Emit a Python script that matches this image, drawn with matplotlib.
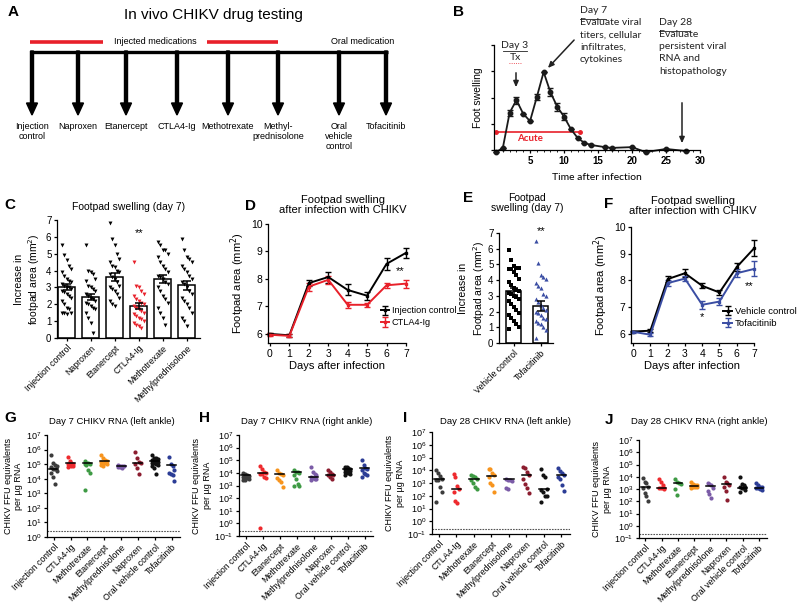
import numpy as np
import matplotlib.pyplot as plt

plt.rcParams['font.family'] = ['Liberation Sans', 'DejaVu Sans']
plt.rcParams['font.size'] = 7
plt.rcParams['axes.linewidth'] = 0.9
plt.rcParams['xtick.major.width'] = 0.9
plt.rcParams['ytick.major.width'] = 0.9
plt.rcParams['xtick.major.size'] = 2.5
plt.rcParams['ytick.major.size'] = 2.5
plt.rcParams['xtick.major.pad'] = 1.5
plt.rcParams['ytick.major.pad'] = 1.5

RED = '#e8202a'
BLUE = '#3a4da3'
W, H = 800, 607

# A - study design
design_drugs = ['Injection\ncontrol', 'Naproxen', 'Etanercept', 'CTLA4-Ig', 'Methotrexate',
                'Methyl-\nprednisolone', 'Oral\nvehicle\ncontrol', 'Tofacitinib']

# B - course of foot swelling
course_days = [0, 1, 2, 3, 4, 5, 6, 7, 8, 9, 10, 11, 12, 13, 14, 16, 17, 20, 22, 25, 28]
course_swelling = [-0.08, 0.08, 1.42, 1.9, 1.38, 1.1, 2.02, 2.97, 2.2, 1.65, 1.27, 0.8, 0.46,
                   0.27, 0.19, 0.11, 0.08, 0.11, -0.08, 0.04, -0.04]
course_err = [0, 0, 0.12, 0.13, 0, 0, 0.12, 0, 0.15, 0.15, 0.14, 0, 0, 0, 0, 0, 0, 0, 0, 0, 0]

# C - footpad swelling day 7, injected drugs
c_groups = ['Injection control', 'Naproxen', 'Etanercept', 'CTLA4-Ig', 'Methotrexate',
            'Methylprednisolone']
c_mean = [3.0, 2.45, 3.62, 1.9, 3.5, 3.12]
c_sem = [0.18, 0.18, 0.22, 0.15, 0.25, 0.25]
c_inj = [5.5, 4.9, 4.6, 4.3, 4.1, 3.9, 3.7, 3.5, 3.4, 3.3, 3.2, 3.1, 3.0, 3.0, 2.9, 2.8, 2.7,
         2.6, 2.5, 2.4, 2.2, 2.0, 1.8, 1.7, 1.5, 1.5, 1.5, 1.4]
c_nap = [5.5, 4.0, 3.9, 3.8, 3.5, 3.4, 3.1, 3.0, 2.9, 2.8, 2.6, 2.5, 2.4, 2.3, 2.2, 2.1, 2.0,
         1.9, 1.8, 1.7, 1.5, 1.2, 0.9, 0.3]
c_eta = [6.8, 5.9, 5.5, 5.0, 4.7, 4.5, 4.3, 4.2, 4.0, 3.9, 3.8, 3.6, 3.5, 3.3, 3.1, 3.0, 2.9,
         2.8, 2.6, 2.4, 2.2, 2.0, 1.9]
c_ctla = [4.5, 3.1, 3.0, 2.8, 2.6, 2.5, 2.3, 2.2, 2.1, 2.0, 1.9, 1.8, 1.7, 1.6, 1.5, 1.4, 1.3,
          1.2, 1.1, 1.0, 0.9, 0.8, 0.7, 0.6]
c_mtx = [5.7, 5.5, 5.2, 5.2, 5.0, 4.8, 4.5, 4.3, 4.1, 3.9, 3.7, 3.6, 3.5, 3.3, 3.2, 3.0, 2.8,
         2.5, 2.3, 2.1, 1.8, 1.5, 1.2, 0.8]
c_mp = [5.9, 5.2, 4.8, 4.7, 4.5, 4.3, 4.1, 3.9, 3.7, 3.5, 3.3, 3.2, 3.0, 2.8, 2.6, 2.4, 2.2,
        2.0, 1.8, 1.5, 1.2, 1.0, 0.7]
c_points = [c_inj, c_nap, c_eta, c_ctla, c_mtx, c_mp]

# D - time course, CTLA4-Ig
days = [0, 1, 2, 3, 4, 5, 6, 7]
d_ctrl = [6.0, 5.95, 7.85, 8.07, 7.6, 7.39, 8.55, 8.95]
d_ctrl_err = [0.05, 0.05, 0.12, 0.2, 0.2, 0.15, 0.22, 0.18]
d_ctla = [5.97, 5.93, 7.72, 7.97, 7.06, 7.06, 7.77, 7.83]
d_ctla_err = [0.05, 0.05, 0.15, 0.15, 0.12, 0.08, 0.1, 0.15]

# E - footpad swelling day 7, oral drug
e_groups = ['Vehicle control', 'Tofacitinib']
e_mean = [3.3, 2.35]
e_sem = [0.22, 0.3]
e_vehicle = [5.9, 5.3, 4.9, 4.8, 4.8, 4.7, 4.7, 4.5, 4.3, 4.1, 3.9, 3.7, 3.5, 3.4, 3.3, 3.2,
             3.1, 3.0, 2.9, 2.8, 2.7, 2.5, 2.3, 2.1, 1.9, 1.8, 1.6, 1.4, 1.2, 1.0, 0.9]
e_tofa = [6.5, 5.1, 4.3, 4.2, 4.1, 3.8, 3.6, 3.5, 3.1, 3.0, 2.8, 2.6, 2.4, 2.2, 2.1, 2.0, 1.9,
          1.8, 1.6, 1.5, 1.4, 1.3, 1.2, 1.0, 0.8, 0.3]

# F - time course, tofacitinib
f_vehicle = [6.09, 6.12, 8.05, 8.27, 7.8, 7.55, 8.5, 9.2]
f_vehicle_err = [0.03, 0.05, 0.1, 0.15, 0.1, 0.1, 0.15, 0.3]
f_tofa = [6.08, 5.97, 7.9, 8.07, 7.09, 7.21, 8.27, 8.43]
f_tofa_err = [0.03, 0.05, 0.1, 0.1, 0.15, 0.12, 0.15, 0.28]

# G-J - viral RNA (log10 FFU equivalents per ug RNA)
drug_colors = {'Injection control': '#3c3c3c', 'CTLA4-Ig': '#ee2a2e', 'Methotrexate': '#3e9a44',
               'Etanercept': '#f7941d', 'Methylprednisolone': '#7b5ca7', 'Naproxen': '#8c1d2f',
               'Oral vehicle control': '#111111', 'Tofacitinib': '#2c3d96'}
order_a = ['Injection control', 'CTLA4-Ig', 'Methotrexate', 'Etanercept', 'Methylprednisolone',
           'Naproxen', 'Oral vehicle control', 'Tofacitinib']
order_h = ['Injection control', 'CTLA4-Ig', 'Etanercept', 'Methotrexate', 'Methylprednisolone',
           'Naproxen', 'Oral vehicle control', 'Tofacitinib']
g_log = [[5.6, 5.1, 4.95, 4.85, 4.8, 4.7, 4.65, 4.55, 4.4, 4.1, 3.65],
         [5.5, 5.2, 5.05, 5.0, 5.0, 4.95, 4.9, 4.85, 4.8],
         [5.2, 5.1, 5.05, 5.0, 5.0, 4.95, 4.6, 4.4, 3.25],
         [5.65, 5.45, 5.3, 5.2, 5.15, 5.1, 5.05, 5.0, 4.95, 4.85],
         [4.95, 4.9, 4.85, 4.85, 4.8, 4.8, 4.75],
         [5.8, 5.45, 5.15, 5.1, 5.0, 4.75, 4.35],
         [5.6, 5.45, 5.4, 5.35, 5.3, 5.25, 5.2, 5.15, 5.1, 5.05, 5.0, 4.95, 4.85, 4.75, 4.35],
         [5.5, 5.0, 4.9, 4.6, 4.4, 4.3, 4.25, 3.85]]
g_med = [4.7, 5.05, 5.05, 5.2, 4.85, 5.1, 5.23, 4.95]
h_log = [[4.0, 3.9, 3.85, 3.75, 3.7, 3.65, 3.6, 3.55, 3.45, 3.4],
         [4.55, 4.3, 4.1, 4.0, 3.95, 3.9, 3.7, 3.6, -0.35],
         [4.2, 4.0, 3.9, 3.8, 3.6, 3.45, 3.3, 2.9],
         [4.2, 4.1, 4.05, 4.0, 3.8, 3.5, 3.1, 3.0, 2.95],
         [4.5, 4.1, 3.95, 3.8, 3.7, 3.6, 3.55, 3.5, 3.45],
         [4.25, 4.1, 3.9, 3.85, 3.8, 3.7, 3.55],
         [4.5, 4.45, 4.4, 4.3, 4.3, 4.25, 4.2, 4.15, 4.1, 4.05, 4.0, 3.9, 3.85],
         [5.0, 4.6, 4.4, 4.3, 4.2, 4.0, 3.9, 3.8, 3.7]]
h_med = [3.83, 4.0, 3.9, 4.07, 3.7, 3.85, 4.3, 4.4]
i_log = [[4.05, 3.8, 3.55, 3.3, 3.25, 3.2, 2.65, 2.3, 1.5],
         [3.7, 3.45, 2.8, 2.5, 2.3, 1.55, 1.4],
         [3.6, 3.55, 3.45, 3.3, 3.2, 3.0, 2.65, 2.5],
         [4.1, 4.1, 3.8, 3.6, 3.5, 3.0, 2.85, 2.3],
         [3.3, 3.25, 3.2, 3.15, 2.6, 2.5],
         [4.25, 4.15, 3.85, 3.6, 3.3, 2.9, 2.6, 2.2],
         [4.1, 3.6, 3.5, 2.5, 2.45, 2.3, 2.0, 1.95, 1.5],
         [4.2, 3.95, 3.8, 3.6, 3.5, 3.3, 2.85, 2.4]]
i_med = [3.3, 2.56, 3.3, 3.55, 3.3, 3.65, 2.56, 3.65]
j_log = [[3.9, 3.6, 3.45, 3.2, 3.1, 2.7, 2.4, 2.0],
         [3.8, 3.55, 3.3, 3.1, 3.05, 3.05, 3.05, 3.0],
         [3.8, 3.55, 3.45, 3.4, 3.0, 2.5],
         [3.55, 3.4, 3.35, 3.3, 3.25, 3.2, 3.2, 3.15, 3.1],
         [3.45, 3.4, 3.3, 3.1, 2.8, 2.6, 2.3],
         [4.0, 3.6, 3.45, 3.3, 3.15, 2.85, 2.1],
         [3.95, 3.4, 3.3, 3.2, 3.15, 3.1, 3.05, 2.9, 2.75],
         [3.45, 3.3, 3.2, 3.15, 3.1, 3.05, 3.0, 2.95]]
j_med = [3.15, 3.07, 3.53, 3.26, 3.26, 3.42, 3.12, 3.12]
detect_limit = [2.5, 0.25, 0.24, 0.21]

fig = plt.figure(figsize=(8, 6.07), dpi=100)

# transparent overlay in pixel coordinates for the diagram and the lettering
ov = fig.add_axes([0, 0, 1, 1])
ov.set_xlim(0, W)
ov.set_ylim(H, 0)
ov.axis('off')
ov.patch.set_visible(False)
ov.set_zorder(10)


def px_axes(x0, y0, x1, y1):
    a = fig.add_axes([x0 / W, 1 - y1 / H, (x1 - x0) / W, (y1 - y0) / H])
    a.patch.set_visible(False)
    return a


def spread(n, step, per_row=5):
    k = np.arange(n) % per_row
    return (k - (per_row - 1) / 2) * step


def clean(ax):
    ax.spines['top'].set_visible(False)
    ax.spines['right'].set_visible(False)


for letter, x, y in [('A', 13, 12), ('B', 458, 12), ('C', 10, 205), ('D', 250, 206),
                     ('E', 468, 198), ('F', 609, 204), ('G', 10, 418), ('H', 205, 418),
                     ('I', 405, 418), ('J', 609, 420)]:
    ov.text(x, y, letter, fontsize=11, fontweight='bold', ha='center', va='center')

# ---- A
ov.text(213, 15, 'In vivo CHIKV drug testing', fontsize=11, ha='center', va='center')
ov.plot([30, 103], [42, 42], color=RED, lw=2.6, solid_capstyle='butt')
ov.plot([207, 278], [42, 42], color=RED, lw=2.6, solid_capstyle='butt')
ov.text(155, 42, 'Injected medications', fontsize=6.5, ha='center', va='center')
ov.text(363, 42, 'Oral medication', fontsize=6.5, ha='center', va='center')
ov.plot([30, 388], [52, 52], color='k', lw=2.4, solid_capstyle='butt')
arrow_x = [32, 78, 126, 177, 228, 278, 339, 386]
for x, name in zip(arrow_x, design_drugs):
    ov.arrow(x, 51, 0, 64, width=3, head_width=11, head_length=12,
             length_includes_head=True, color='k')
    ov.text(x, 122, name, fontsize=6.5, ha='center', va='top', linespacing=1.15)

# ---- B
axb = px_axes(494, 45, 700, 150)
clean(axb)
axb.errorbar(course_days, course_swelling, yerr=course_err, fmt='-o', color='#1a1a1a',
             ms=3.2, lw=1.3, elinewidth=1, capsize=2, clip_on=False)
axb.plot([0, 12.4], [0.69, 0.69], '-o', color=RED, lw=1.2, ms=2.5, clip_on=False)
axb.text(5, 0.42, 'Acute', color=RED, fontsize=7, fontweight='bold', ha='center', va='center',
         family=['Lato', 'DejaVu Sans'])
axb.set_xlim(-0.3, 30)
axb.set_ylim(0, 4)
axb.set_xticks([5, 10, 15, 20, 25, 30])
axb.set_xticks(range(0, 31), minor=True)
axb.tick_params(axis='x', which='minor', length=1.5)
axb.set_yticks([0, 1, 2, 3, 4])
axb.set_yticklabels([])
for lab in axb.get_xticklabels():
    lab.set_fontweight('bold')
axb.set_ylabel('Foot swelling', fontsize=7.5, labelpad=4)
axb.set_xlabel('Time after infection', fontsize=7.5, family=['Lato', 'DejaVu Sans'], labelpad=5)

bfont = dict(fontsize=7.5, family=['Lato', 'DejaVu Sans'], color='#222222')
ov.text(515, 45, 'Day 3', ha='center', va='center', **bfont)
ov.plot([503, 527], [51, 51], color='#222222', lw=0.6)
ov.text(515, 57, 'Tx', ha='center', va='center', **bfont)
ov.plot([509, 521], [63, 63], color=RED, lw=0.6, ls=':')
ov.annotate('', xy=(516, 90), xytext=(516, 70),
            arrowprops=dict(arrowstyle='-|>,head_length=0.5,head_width=0.22', color='#222222',
                            lw=1.1))
ov.text(580, 6, 'Day 7\nEvaluate viral\ntiters, cellular\ninfiltrates,\ncytokines',
        ha='left', va='top', linespacing=1.45, **bfont)
ov.plot([580, 606], [19, 19], color='#222222', lw=0.6)
ov.annotate('', xy=(546, 70), xytext=(576, 38),
            arrowprops=dict(arrowstyle='-|>,head_length=0.5,head_width=0.22', color='#222222',
                            lw=1.1))
ov.text(659, 18, 'Day 28\nEvaluate\npersistent viral\nRNA and\nhistopathology',
        ha='left', va='top', linespacing=1.45, **bfont)
ov.plot([659, 690], [31, 31], color='#222222', lw=0.6)
ov.annotate('', xy=(682, 146), xytext=(682, 100),
            arrowprops=dict(arrowstyle='-|>,head_length=0.5,head_width=0.22', color='#222222',
                            lw=1.1))

# ---- C
axc = px_axes(57, 220, 200, 338)
clean(axc)
xc = np.arange(len(c_groups))
axc.bar(xc, c_mean, width=0.7, color='white', edgecolor='k', lw=1.1, zorder=1)
for i, pts in enumerate(c_points):
    col = RED if c_groups[i] == 'CTLA4-Ig' else 'k'
    axc.scatter(i + spread(len(pts), 0.1), pts, marker='v', s=8, color=col, lw=0, zorder=3)
axc.errorbar(xc, c_mean, yerr=c_sem, fmt='none', ecolor='k', elinewidth=1.1, capsize=3,
             capthick=1.1, zorder=4)
axc.text(3, 6.2, '**', fontsize=8, ha='center', va='center')
axc.set_xlim(-0.4, 5.55)
axc.set_ylim(0, 7)
axc.set_yticks(range(8))
axc.set_xticks(xc)
axc.set_xticklabels(c_groups, rotation=45, ha='right', rotation_mode='anchor', fontsize=6.3)
axc.set_ylabel('Increase in\nfootpad area (mm$^2$)', fontsize=7.5, labelpad=3)
ov.text(129, 207, 'Footpad swelling (day 7)', fontsize=7.5, ha='center', va='center')

# ---- D
axd = px_axes(268, 224, 406, 343)
clean(axd)
axd.errorbar(days, d_ctrl, yerr=d_ctrl_err, fmt='-s', color='k', ms=2, lw=1.4, elinewidth=1,
             capsize=2.5, label='Injection control', clip_on=False)
axd.errorbar(days, d_ctla, yerr=d_ctla_err, fmt='-s', color=RED, ms=2, lw=1.4, elinewidth=1,
             capsize=2.5, label='CTLA4-Ig', clip_on=False)
axd.text(6.7, 8.3, '**', fontsize=8, ha='center', va='center')
axd.set_xlim(-0.1, 7)
axd.set_ylim(5.67, 10)
axd.set_xticks(days)
axd.set_yticks([6, 7, 8, 9, 10])
axd.tick_params(labelsize=7.5)
axd.set_xlabel('Days after infection', fontsize=8, labelpad=2)
axd.set_ylabel('Footpad area (mm$^2$)', fontsize=8, labelpad=3)
axd.legend(loc='center left', bbox_to_anchor=(0.79, 0.22), frameon=False, fontsize=6.6,
           handlelength=0.9, handletextpad=0.3, labelspacing=0.3, borderaxespad=0)
ov.text(343, 205, 'Footpad swelling\nafter infection with CHIKV', fontsize=8, ha='center',
        va='center', linespacing=1.1)

# ---- E
axe = px_axes(499, 233, 553, 343)
clean(axe)
xe = np.arange(len(e_groups))
axe.bar(xe, e_mean, width=0.55, color='white', edgecolor='k', lw=1.1, zorder=1)
axe.scatter(0 + spread(len(e_vehicle), 0.09), e_vehicle, marker='s', s=8, color='k', lw=0,
            zorder=3)
axe.scatter(1 + spread(len(e_tofa), 0.09), e_tofa, marker='^', s=9, color=BLUE, lw=0, zorder=3)
axe.errorbar(xe, e_mean, yerr=e_sem, fmt='none', ecolor='k', elinewidth=1.1, capsize=3,
             capthick=1.1, zorder=4)
axe.text(1, 7.1, '**', fontsize=8, ha='center', va='center')
axe.set_xlim(-0.55, 1.45)
axe.set_ylim(0, 7)
axe.set_yticks(range(8))
axe.set_xticks(xe)
axe.set_xticklabels(e_groups, rotation=45, ha='right', rotation_mode='anchor', fontsize=6.3)
axe.set_ylabel('Increase in\nFootpad area (mm$^2$)', fontsize=7.5, labelpad=1)
ov.text(527, 203, 'Footpad\nswelling (day 7)', fontsize=7.5, ha='center', va='center',
        linespacing=1.1)

# ---- F
axf = px_axes(631, 227, 754, 343)
clean(axf)
axf.errorbar(days, f_vehicle, yerr=f_vehicle_err, fmt='-s', color='k', ms=2, lw=1.4,
             elinewidth=1, capsize=2.5, label='Vehicle control', clip_on=False)
axf.errorbar(days, f_tofa, yerr=f_tofa_err, fmt='-s', color=BLUE, ms=2, lw=1.4, elinewidth=1,
             capsize=2.5, label='Tofacitinib', clip_on=False)
axf.text(4, 6.62, '*', fontsize=8, ha='center', va='center')
axf.text(6.7, 7.8, '**', fontsize=8, ha='center', va='center')
axf.set_xlim(-0.12, 7)
axf.set_ylim(5.66, 10)
axf.set_xticks(days)
axf.set_yticks([6, 7, 8, 9, 10])
axf.tick_params(labelsize=7.5)
axf.set_xlabel('Days after infection', fontsize=8, labelpad=2)
axf.set_ylabel('Footpad area (mm$^2$)', fontsize=8, labelpad=3)
axf.legend(loc='center left', bbox_to_anchor=(0.72, 0.22), frameon=False, fontsize=6.8,
           handlelength=0.9, handletextpad=0.3, labelspacing=0.3, borderaxespad=0)
ov.text(693, 206, 'Footpad swelling\nafter infection with CHIKV', fontsize=8, ha='center',
        va='center', linespacing=1.1)

# ---- G-J
rna_panels = [
    ((47, 435, 180, 537), order_a, g_log, g_med, 1, detect_limit[0],
     'Day 7 CHIKV RNA (left ankle)', 112),
    ((239, 435, 373, 536), order_h, h_log, h_med, 0.1, detect_limit[1],
     'Day 7 CHIKV RNA (right ankle)', 307),
    ((432, 432, 570, 534), order_a, i_log, i_med, 0.1, detect_limit[2],
     'Day 28 CHIKV RNA (left ankle)', 505),
    ((639, 440, 767, 538), order_a, j_log, j_med, 0.1, detect_limit[3],
     'Day 28 CHIKV RNA (right ankle)', 699),
]
for rect, order, logs, meds, ymin, lod, title, tx in rna_panels:
    ax = px_axes(*rect)
    clean(ax)
    ax.set_yscale('log')
    for i, (name, vals) in enumerate(zip(order, logs)):
        vals = np.array(vals)
        ax.scatter(i + spread(len(vals), 0.11, 4), 10 ** vals, s=9, color=drug_colors[name],
                   lw=0, zorder=3, clip_on=False)
        ax.plot([i - 0.27, i + 0.27], [10 ** meds[i]] * 2, color='k', lw=1.1, zorder=4)
    ax.axhline(lod, color='#555555', lw=0.8, ls=(0, (1.5, 1)), zorder=1)
    ax.set_xlim(-0.4, 7.5)
    ax.set_ylim(ymin, 1e7)
    ax.set_yticks([10.0 ** k for k in range(int(np.log10(ymin)), 8)])
    ax.minorticks_off()
    ax.tick_params(labelsize=6.5)
    ax.set_xticks(range(len(order)))
    ax.set_xticklabels(order, rotation=45, ha='right', rotation_mode='anchor', fontsize=6.3)
    ax.set_ylabel('CHIKV FFU equivalents\nper µg RNA', fontsize=6.5, labelpad=2)
    ov.text(tx, 421, title, fontsize=6.8, ha='center', va='center')

fig.savefig('out.png', dpi=100)
